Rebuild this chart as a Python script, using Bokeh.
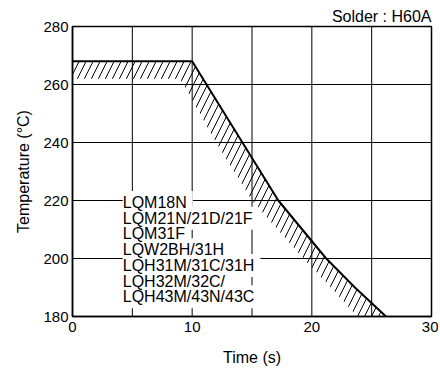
from bokeh.plotting import figure
from bokeh.models import Range1d, FixedTicker, Label, Span
from bokeh.embed import file_html
from bokeh.resources import INLINE

# Data
upper_t = [0, 10, 14.2, 17.2, 19.2, 21.2, 23.6, 26.2]
upper_T = [268, 268, 240, 220, 210, 200, 190, 180]
lower_t = [0, 9, 12, 15, 19.3, 21.6, 23.8]
lower_T = [262, 262, 240, 220, 200, 190, 180]
x_ticks = [0, 10, 20, 30]
y_ticks = [180, 200, 220, 240, 260, 280]
x_grid = [5, 10, 15, 20, 25]
y_grid = [200, 220, 240, 260]
part_names = ["LQM18N", "LQM21N/21D/21F", "LQM31F", "LQW2BH/31H",
              "LQH31M/31C/31H", "LQH32M/32C/", "LQH43M/43N/43C"]
title_text = "Solder : H60A"
x_label = "Time (s)"
y_label = "Temperature (\u00b0C)"

FONT = "Liberation Sans"

p = figure(width=438, height=368, output_backend="svg", toolbar_location=None,
           x_range=Range1d(0, 30), y_range=Range1d(180, 280),
           title=title_text,
           min_border_left=72, min_border_right=7, min_border_top=26, min_border_bottom=47)
p.title.align = "right"
p.title.text_font = FONT
p.title.text_font_size = "16px"
p.title.text_font_style = "normal"
p.title.text_color = "black"
p.title.standoff = 3
p.title.offset = 0

p.background_fill_color = "white"
p.border_fill_color = "white"
p.outline_line_color = "black"
p.outline_line_width = 1.5
p.xgrid.visible = False
p.ygrid.visible = False

p.xaxis.ticker = FixedTicker(ticks=x_ticks)
p.yaxis.ticker = FixedTicker(ticks=y_ticks)
for ax in (p.xaxis, p.yaxis):
    ax.major_tick_out = 0
    ax.major_tick_in = 0
    ax.minor_tick_out = 0
    ax.minor_tick_in = 0
    ax.axis_line_color = "black"
    ax.axis_line_width = 1.5
    ax.major_label_text_font = FONT
    ax.major_label_text_font_size = "15px"
    ax.major_label_text_color = "black"
    ax.axis_label_text_font = FONT
    ax.axis_label_text_font_size = "16px"
    ax.axis_label_text_font_style = "normal"
    ax.axis_label_text_color = "black"
p.xaxis.axis_label = x_label
p.yaxis.axis_label = y_label
p.xaxis.major_label_standoff = 5
p.yaxis.major_label_standoff = 4
p.xaxis.axis_label_standoff = 14
p.yaxis.axis_label_standoff = 8

# hatched band
band_x = upper_t + lower_t[::-1]
band_y = upper_T + lower_T[::-1]
p.patch(band_x, band_y, fill_alpha=0, line_color=None,
        hatch_pattern="/", hatch_color="black", hatch_scale=14, hatch_weight=1)
p.line(upper_t, upper_T, line_color="black", line_width=2)

# grid lines
for v in x_grid:
    p.add_layout(Span(location=v, dimension="height", line_color="black", line_width=1))
for v in y_grid:
    p.add_layout(Span(location=v, dimension="width", line_color="black", line_width=1))

# part name labels: white boxes first, then the texts on top
y0 = 219.3
dy = 5.42
for i, name in enumerate(part_names):
    p.add_layout(Label(x=4.2, y=y0 - i * dy, text=name, text_font=FONT,
                       text_font_size="16px", text_baseline="middle",
                       text_align="left", text_color="white",
                       background_fill_color="white", padding=3))
for i, name in enumerate(part_names):
    p.add_layout(Label(x=4.2, y=y0 - i * dy, text=name, text_font=FONT,
                       text_font_size="16px", text_baseline="middle",
                       text_align="left", text_color="black"))

open("out.html", "w").write(file_html(p, INLINE))
